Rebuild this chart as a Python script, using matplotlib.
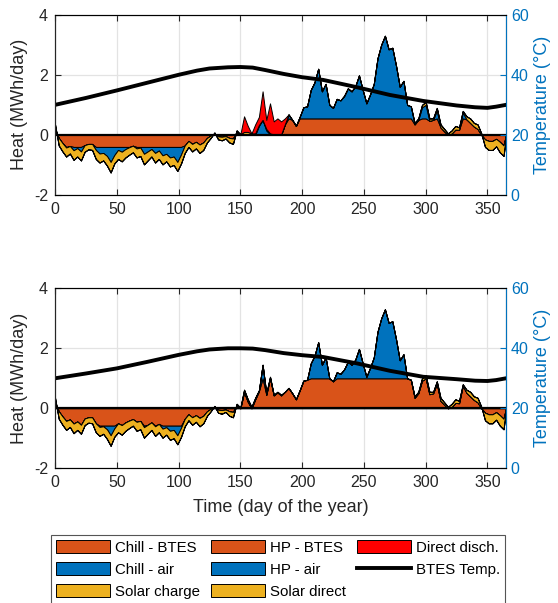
import numpy as np
import matplotlib.pyplot as plt
from matplotlib.patches import Patch
from matplotlib.lines import Line2D

plt.rcParams['font.family'] = ['Liberation Sans', 'DejaVu Sans']
plt.rcParams['axes.unicode_minus'] = False

# sampled days (every 3 days) and the net daily heat demand (+ cooling, - heating)
days = np.r_[np.arange(0, 364, 3), 365]
demand = np.array([
    0.35, -0.35, -0.55, -0.72, -0.62, -0.83, -0.72, -0.85, -0.56, -0.48,
    -0.5, -0.8, -0.92, -0.85, -1.02, -1.25, -0.95, -0.8, -0.88, -0.75,
    -0.66, -0.58, -0.75, -0.7, -0.98, -0.85, -0.72, -0.92, -0.8, -0.98,
    -0.88, -1.05, -1.0, -1.2, -0.95, -0.6, -0.4, -0.55, -0.45, -0.6,
    -0.5, -0.25, -0.1, 0.08, -0.15, -0.18, -0.12, -0.25, -0.3, 0.15,
    0.02, 0.62, 0.3, 0.05, 0.35, 0.6, 1.45, 0.5, 1.05, 0.45,
    0.55, 0.45, 0.55, 0.68, 0.5, 0.3, 0.6, 0.92, 0.95, 1.5,
    1.75, 2.2, 1.45, 1.7, 1.0, 0.9, 1.2, 1.15, 1.3, 1.55,
    1.45, 1.62, 1.98, 1.5, 1.05, 1.35, 1.7, 2.55, 3.0, 3.3,
    2.85, 2.9, 2.3, 1.6, 1.8, 1.0, 0.95, 0.4, 0.55, 1.0,
    1.1, 0.55, 0.55, 0.9, 0.35, 0.2, 0.05, 0.15, 0.3, 0.25,
    0.8, 0.62, 0.55, 0.4, 0.35, 0.05, -0.4, -0.5, -0.5, -0.38,
    -0.58, -0.7, -0.1])
# solar part (magnitude) of the demand
solar = np.array([
    0.15, 0.25, 0.28, 0.3, 0.25, 0.32, 0.28, 0.3, 0.22, 0.18,
    0.2, 0.3, 0.3, 0.25, 0.32, 0.35, 0.28, 0.3, 0.32, 0.28,
    0.25, 0.22, 0.3, 0.28, 0.35, 0.3, 0.25, 0.32, 0.28, 0.3,
    0.25, 0.3, 0.28, 0.3, 0.3, 0.25, 0.2, 0.25, 0.22, 0.28,
    0.25, 0.15, 0.08, 0.05, 0.1, 0.12, 0.08, 0.15, 0.18, 0.05,
    0.02, 0.08, 0.08, 0.05, 0.05, 0.03, 0.0, 0.05, 0.03, 0.02,
    0.02, 0.02, 0.0, 0.0, 0.0, 0.0, 0.0, 0.0, 0.0, 0.0,
    0.0, 0.0, 0.0, 0.0, 0.0, 0.0, 0.0, 0.0, 0.0, 0.0,
    0.0, 0.0, 0.0, 0.0, 0.0, 0.0, 0.0, 0.0, 0.0, 0.0,
    0.0, 0.0, 0.0, 0.0, 0.0, 0.0, 0.0, 0.05, 0.05, 0.08,
    0.1, 0.08, 0.05, 0.08, 0.1, 0.08, 0.05, 0.1, 0.12, 0.08,
    0.05, 0.1, 0.15, 0.12, 0.15, 0.05, 0.25, 0.3, 0.3, 0.25,
    0.35, 0.35, 0.1])

# direct discharge (upper case only)
direct_days = [153, 156, 159, 162, 165, 168, 171, 174, 177, 180, 183, 186]
direct_vals = [0.52, 0.2, 0.0, 0.3, 0.27, 0.95, 0.3, 1.0, 0.43, 0.53, 0.43, 0.2]
direct_period = (150, 185)

# BTES capacity limits
top_cap_heat, top_cap_chill = -0.4, 0.55
bot_cap_heat, bot_cap_chill = -0.58, 1.0

# BTES temperature (deg C)
temp_days = [0, 25, 50, 75, 100, 115, 125, 140, 150, 160, 170, 185, 200, 217,
             244, 271, 298, 325, 340, 350, 357, 365]
top_temp = [30, 32.3, 34.8, 37.4, 40, 41.4, 42.1, 42.5, 42.6, 42.4, 41.6, 40.3,
            39.2, 38.3, 35.9, 33.3, 31.3, 29.8, 29.2, 29.0, 29.4, 30]
bot_temp = [30, 31.6, 33.3, 35.5, 37.8, 39.0, 39.6, 40.0, 40.0, 39.9, 39.4, 38.4,
            37.7, 37.1, 35.0, 32.5, 30.5, 29.7, 29.2, 29.1, 29.4, 30]

c_orange = '#D95319'
c_blue = '#0072BD'
c_yellow = '#EDB120'
c_red = '#FF0000'
c_txt = '#262626'


def draw(ax, cap_heat, cap_chill, red, temp, xlabel):
    neg = demand < 0
    rem_n = np.minimum(demand + solar, 0)
    hp_btes = np.where(neg, np.maximum(rem_n, cap_heat), 0)
    hp_air = np.where(neg, rem_n - hp_btes, 0)
    rem_p = np.maximum(demand - solar - red, 0)
    ch_btes = np.where(neg, 0, np.minimum(rem_p, cap_chill))
    ch_air = np.where(neg, 0, rem_p - ch_btes)

    b1 = hp_btes + ch_btes
    b2 = b1 + hp_air + ch_air
    b3 = np.where(neg, demand, demand - red)
    kw = dict(edgecolor='k', lw=0.7)
    ax.fill_between(days, 0, b1, facecolor=c_orange, **kw)
    ax.fill_between(days, b1, b2, facecolor=c_blue, **kw)
    ax.fill_between(days, b2, b3, facecolor=c_yellow, **kw)
    ax.fill_between(days, b3, demand, facecolor=c_red, **kw)
    ax.axhline(0, color='k', lw=1.6)

    ax.set_xlim(0, 365)
    ax.set_ylim(-2, 4)
    ax.set_xticks(range(0, 351, 50))
    ax.set_yticks([-2, 0, 2, 4])
    ax.grid(True, color='#e3e3e3', lw=0.9)
    ax.set_axisbelow(True)
    ax.tick_params(direction='in', top=True, labelsize=11.5, colors=c_txt,
                   length=4, pad=5)
    ax.set_ylabel('Heat (MWh/day)', fontsize=13, color=c_txt)
    if xlabel:
        ax.set_xlabel('Time (day of the year)', fontsize=13, color=c_txt,
                      labelpad=6)
    for s in ax.spines.values():
        s.set_color(c_txt)

    ax2 = ax.twinx()
    ax2.plot(temp_days, temp, color='k', lw=2.8)
    ax2.set_ylim(0, 60)
    ax2.set_yticks([0, 20, 40, 60])
    ax2.tick_params(direction='in', labelsize=11.5, colors=c_blue, length=4)
    ax2.spines['right'].set_color(c_blue)
    ax2.spines['left'].set_color(c_txt)
    ax2.set_ylabel('Temperature (°C)', fontsize=13, color=c_blue)


fig = plt.figure(figsize=(5.58, 6.03), dpi=100)
ax_top = fig.add_axes([0.0986, 0.6766, 0.8082, 0.299])
ax_bot = fig.add_axes([0.0986, 0.2234, 0.8082, 0.2985])

red_top = np.zeros(len(days))
red_top[np.isin(days, direct_days)] = direct_vals
cap_top = np.where((days >= direct_period[0]) & (days <= direct_period[1]), 0, top_cap_chill)

draw(ax_top, top_cap_heat, cap_top, red_top, top_temp, False)
draw(ax_bot, bot_cap_heat, bot_cap_chill, np.zeros(len(days)), bot_temp, True)

handles = [Patch(facecolor=c_orange, edgecolor='k', lw=0.7),
           Patch(facecolor=c_blue, edgecolor='k', lw=0.7),
           Patch(facecolor=c_yellow, edgecolor='k', lw=0.7),
           Patch(facecolor=c_orange, edgecolor='k', lw=0.7),
           Patch(facecolor=c_blue, edgecolor='k', lw=0.7),
           Patch(facecolor=c_yellow, edgecolor='k', lw=0.7),
           Patch(facecolor=c_red, edgecolor='k', lw=0.7),
           Line2D([], [], color='k', lw=2.8)]
labels = ['Chill - BTES', 'Chill - air', 'Solar charge',
          'HP - BTES', 'HP - air', 'Solar direct',
          'Direct disch.', 'BTES Temp.']
leg = fig.legend(handles, labels, ncol=3, loc='upper left',
                 bbox_to_anchor=(51 / 558, 1 - 535 / 603, 454 / 558, 0),
                 mode='expand', fontsize=10.8, handlelength=3.6,
                 handleheight=0.95, handletextpad=0.3, columnspacing=0.5,
                 labelspacing=0.48, borderpad=0.35, borderaxespad=0,
                 fancybox=False, framealpha=1)
leg.get_frame().set_edgecolor('#555555')
leg.get_frame().set_linewidth(0.8)

fig.savefig('out.png', dpi=100)
